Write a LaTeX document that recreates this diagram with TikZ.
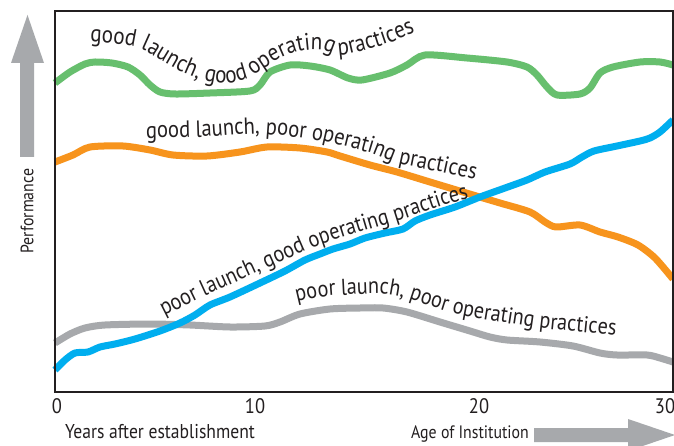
\documentclass[tikz,border=0pt]{standalone}
\usepackage{fontspec}
\setmainfont{PT Sans}[FakeStretch=0.88]
\usetikzlibrary{decorations.text}
\definecolor{cgreen}{RGB}{103,191,110}
\definecolor{corange}{RGB}{247,148,29}
\definecolor{cblue}{RGB}{0,174,239}
\definecolor{cgray}{RGB}{167,169,172}
\definecolor{txt}{RGB}{35,31,32}
\newcommand\lblfont{\fontsize{23.5}{23.5}\selectfont}
\newcommand\lblfontb{\fontsize{24}{24}\selectfont}
\newcommand\lblfontc{\fontsize{23}{23}\selectfont}
\tikzset{
  curve/.style={line width=7pt, line join=round, line cap=butt},
  lbl/.style={decorate, decoration={text along path, text color=txt, text={|\lblfont|#1}}},
  lblb/.style={decorate, decoration={text along path, text color=txt, text={|\lblfontb|#1}}},
  lblc/.style={decorate, decoration={text along path, text color=txt, text={|\lblfontc|#1}}},
  axislbl/.style={inner sep=0pt, text=txt, font=\fontsize{18}{18}\selectfont},
  ticklbl/.style={inner sep=0pt, text=txt, font=\fontsize{21}{21}\selectfont},
  bigarrow/.style={fill=cgray}
}
\begin{document}
\begin{tikzpicture}[x=1pt,y=-1pt]
\useasboundingbox (0,0) rectangle (674,446);
\fill[white] (0,0) rectangle (674,446);

% curves
\draw[curve, cgray] plot[smooth, tension=0.45] coordinates {(55,343) (70,334) (85,328) (105,325) (150,324) (190,325) (230,327) (265,326) (280,322) (300,314) (330,309) (360,308) (383,308) (407,312) (440,322) (470,331) (490,337) (507,340) (540,342) (573,346) (600,353) (617,355) (647,355) (660,358) (673,362)};
\draw[curve, corange] plot[smooth, tension=0.45] coordinates {(55,162) (73,155) (90,147) (123,146) (150,150) (173,155) (207,156) (240,152) (267,147) (300,148) (327,152) (340,156) (370,165) (397,172) (430,182) (473,195) (500,203) (530,212) (545,222) (556,227) (580,225) (600,232) (618,237) (638,245) (655,258) (673,279)};
\draw[curve, cgreen] plot[smooth, tension=0.45] coordinates {(55,83) (70,72) (85,64) (95,62) (112,63) (128,67) (140,75) (150,85) (160,92) (175,94) (210,93) (250,91) (260,85) (270,72) (290,65) (310,66) (330,70) (348,78) (362,80) (390,73) (407,65) (425,55) (467,58) (507,62) (527,67) (537,75) (547,87) (557,95) (580,94) (590,88) (600,73) (613,67) (640,62) (660,62) (673,65)};
\draw[curve, cblue] plot[smooth, tension=0.45] coordinates {(55,370) (65,360) (75,353) (88,352) (100,347) (115,344) (135,339) (160,331) (180,323) (195,315) (210,305) (230,297) (260,283) (285,271) (305,260) (320,254) (333,249) (350,244) (365,238) (385,233) (403,229) (415,221) (430,215) (455,207) (480,197) (505,188) (527,180) (545,172) (570,164) (582,157) (594,151) (617,146) (640,141) (650,138) (660,132) (673,120)};

% frame
\draw[line width=1.2pt, txt] (55,11) rectangle (673,392);

% curve labels
\path[lblb={good launch, good operating practices}] plot[smooth, tension=0.6] coordinates {(90,42) (117,44) (141,49) (162,61) (182,72) (203,80) (226,83) (247,79) (263,69) (281,58) (301,51) (321,50) (341,55) (369,49) (394,41) (416,32) (442,22)};
\path[lbl={good launch, poor operating practices}] plot[smooth, tension=0.5] coordinates {(146,138) (200,137) (260,134) (310,139) (335,144) (370,153) (397,163) (440,172) (476,180) (500,186)};
\path[lblc={poor launch, good operating practices}] plot[smooth, tension=0.5] coordinates {(164,316) (200,298) (240,280) (280,262) (320,245) (360,232) (400,220) (442,206) (470,198)};
\path[lblc={poor launch, poor operating practices}] plot[smooth, tension=0.5] coordinates {(297,302) (320,297) (345,295) (380,294) (405,298) (430,306) (460,315) (500,322) (540,328) (580,332) (622,336) (650,338)};

% axis arrows
\fill[bigarrow] (20,157) -- (34,157) -- (34,63) -- (44,63) -- (27.5,15) -- (11,63) -- (20,63) -- cycle;
\fill[bigarrow] (534,428) -- (628,428) -- (628,419) -- (675,435) -- (628,451) -- (628,442) -- (534,442) -- cycle;

% axis labels
\node[axislbl, rotate=90] (perf) at (27,211) {Performance};
\node[axislbl, font=\fontsize{20}{20}\selectfont] (years) at (160,432) {Years after establishment};
\node[axislbl] (age) at (470,434) {Age of Institution};
\node[ticklbl] (t0) at (57,406) {0};
\node[ticklbl] (t10) at (255,406) {10};
\node[ticklbl] (t20) at (479,406) {20};
\node[ticklbl] (t30) at (665,406) {30};
\end{tikzpicture}
\end{document}
